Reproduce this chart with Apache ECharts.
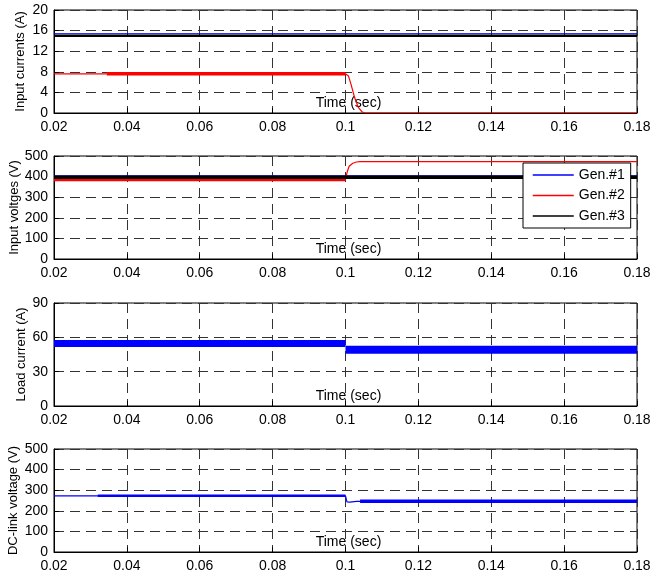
<!DOCTYPE html>
<html>
<head>
<meta charset="utf-8">
<script src="https://cdn.jsdelivr.net/npm/echarts@6/dist/echarts.min.js"></script>
<style>
  html, body { margin: 0; padding: 0; background: #fff; }
  #chart { width: 652px; height: 578px; }
</style>
</head>
<body>
<div id="chart"></div>
<script>
// panel 1: input currents (A)
const curGen1T = [0.02, 0.18];
const curGen1 = [15.4, 15.4];
const curGen3T = [0.02, 0.18];
const curGen3 = [15.0, 15.0];
const curGen2T = [0.02, 0.0345, 0.1, 0.1008, 0.1015, 0.1025, 0.1035, 0.1045, 0.1053, 0.18];
const curGen2 = [7.6, 7.6, 7.6, 7.2, 5.6, 3.0, 1.1, 0.25, 0, 0];
const curGen2BandT = [0.0345, 0.1];
const curGen2Band = [7.6, 7.6];

// panel 2: input voltages (V)
const voltGen1T = [0.02, 0.18];
const voltGen1 = [404, 404];
const voltGen3T = [0.02, 0.18];
const voltGen3 = [397, 397];
const voltGen2BandT = [0.02, 0.1];
const voltGen2Band = [386, 386];
const voltGen2T = [0.1, 0.1005, 0.101, 0.102, 0.103, 0.104, 0.18];
const voltGen2 = [386, 425, 450, 465, 471, 473, 473];

// panel 3: load current (A)
const loadBeforeT = [0.02, 0.1];
const loadBefore = [54.6, 54.6];
const loadAfterT = [0.1, 0.18];
const loadAfter = [49.2, 49.2];

// panel 4: DC-link voltage (V)
const dcT = [0.02, 0.1, 0.1004, 0.1012, 0.103, 0.18];
const dc = [272, 272, 243, 242, 246, 246];
const dcBandBeforeT = [0.032, 0.1];
const dcBandBefore = [273, 273];
const dcBandAfterT = [0.104, 0.18];
const dcBandAfter = [246, 246];

const yNames = ["Input currents (A)", "Input voltges (V)", "Load current (A)", "DC-link voltage (V)"];
const yMax = [20, 500, 90, 500];
const yStep = [4, 100, 30, 100];
const yNameGap = [27, 33, 26, 34];
const gridTops = [10, 156, 303, 449];
const legendNames = ["Gen.#1", "Gen.#2", "Gen.#3"];

const FONT = "Liberation Sans, Arial, sans-serif";
const BLUE = "#0000ff";
const RED = "#ff0000";
const BLACK = "#000000";

const pts = (t, v) => t.map((x, i) => [x, v[i]]);

const dashed = { show: true, lineStyle: { color: "#333", type: [10, 6], width: 1 } };

function line(name, idx, t, v, color, width) {
  return {
    name,
    type: "line",
    xAxisIndex: idx,
    yAxisIndex: idx,
    data: pts(t, v),
    symbol: "none",
    silent: true,
    lineStyle: { color, width, cap: "butt" },
    itemStyle: { color },
  };
}

const chart = echarts.init(document.getElementById("chart"));
chart.setOption({
  animation: false,
  backgroundColor: "#fff",
  textStyle: { fontFamily: FONT },
  grid: gridTops.map((top) => ({
    left: 54, right: 15, top, height: 103,
    outerBoundsMode: "none",
    containLabel: false,
    show: true, borderColor: BLACK, borderWidth: 1, backgroundColor: "#fff",
  })),
  xAxis: gridTops.map((_, i) => ({
    type: "value",
    gridIndex: i,
    min: 0.02,
    max: 0.18,
    interval: 0.02,
    name: "Time (sec)",
    nameLocation: "middle",
    nameGap: -17,
    nameMoveOverlap: false,
    nameTextStyle: { color: BLACK, fontSize: 14, fontFamily: FONT, padding: [0, 0, 0, 6] },
    axisLine: { show: true, lineStyle: { color: BLACK, width: 1 } },
    axisTick: { show: true, inside: true, length: 5, lineStyle: { color: BLACK } },
    axisLabel: {
      color: BLACK, fontSize: 14, fontFamily: FONT, margin: 7,
      formatter: (v) => String(+v.toFixed(2)),
    },
    splitLine: dashed,
  })),
  yAxis: gridTops.map((_, i) => ({
    type: "value",
    gridIndex: i,
    min: 0,
    max: yMax[i],
    interval: yStep[i],
    name: yNames[i],
    nameLocation: "middle",
    nameGap: yNameGap[i],
    nameMoveOverlap: false,
    nameTextStyle: { color: BLACK, fontSize: 13, fontFamily: FONT },
    axisLine: { show: true, lineStyle: { color: BLACK, width: 1 } },
    axisTick: { show: true, inside: true, length: 5, lineStyle: { color: BLACK } },
    axisLabel: { color: BLACK, fontSize: 14, fontFamily: FONT, margin: 6 },
    splitLine: dashed,
  })),
  legend: {
    data: legendNames,
    orient: "vertical",
    left: 523,
    top: 163,
    padding: [5, 6, 5, 9],
    itemWidth: 41,
    itemHeight: 14,
    itemGap: 6.5,
    backgroundColor: "#fff",
    borderColor: BLACK,
    borderWidth: 1,
    borderRadius: 0,
    selectedMode: false,
    itemStyle: { opacity: 0 },
    lineStyle: { width: 1.5 },
    textStyle: { color: BLACK, fontSize: 14, fontFamily: FONT },
  },
  series: [
    line("Gen.#1", 0, curGen1T, curGen1, BLUE, 1),
    line("Gen.#2", 0, curGen2T, curGen2, RED, 1.2),
    line("Gen.#2", 0, curGen2BandT, curGen2Band, RED, 3.5),
    line("Gen.#3", 0, curGen3T, curGen3, BLACK, 2.5),

    line("Gen.#1", 1, voltGen1T, voltGen1, BLUE, 1),
    line("Gen.#2", 1, voltGen2BandT, voltGen2Band, RED, 3.5),
    line("Gen.#2", 1, voltGen2T, voltGen2, RED, 1.2),
    line("Gen.#3", 1, voltGen3T, voltGen3, BLACK, 3.5),

    line("Load", 2, loadBeforeT, loadBefore, BLUE, 7),
    line("Load", 2, loadAfterT, loadAfter, BLUE, 8),

    line("DC", 3, dcT, dc, BLUE, 1.2),
    line("DC", 3, dcBandBeforeT, dcBandBefore, BLUE, 2.5),
    line("DC", 3, dcBandAfterT, dcBandAfter, BLUE, 3.5),
  ],
});
</script>
</body>
</html>
